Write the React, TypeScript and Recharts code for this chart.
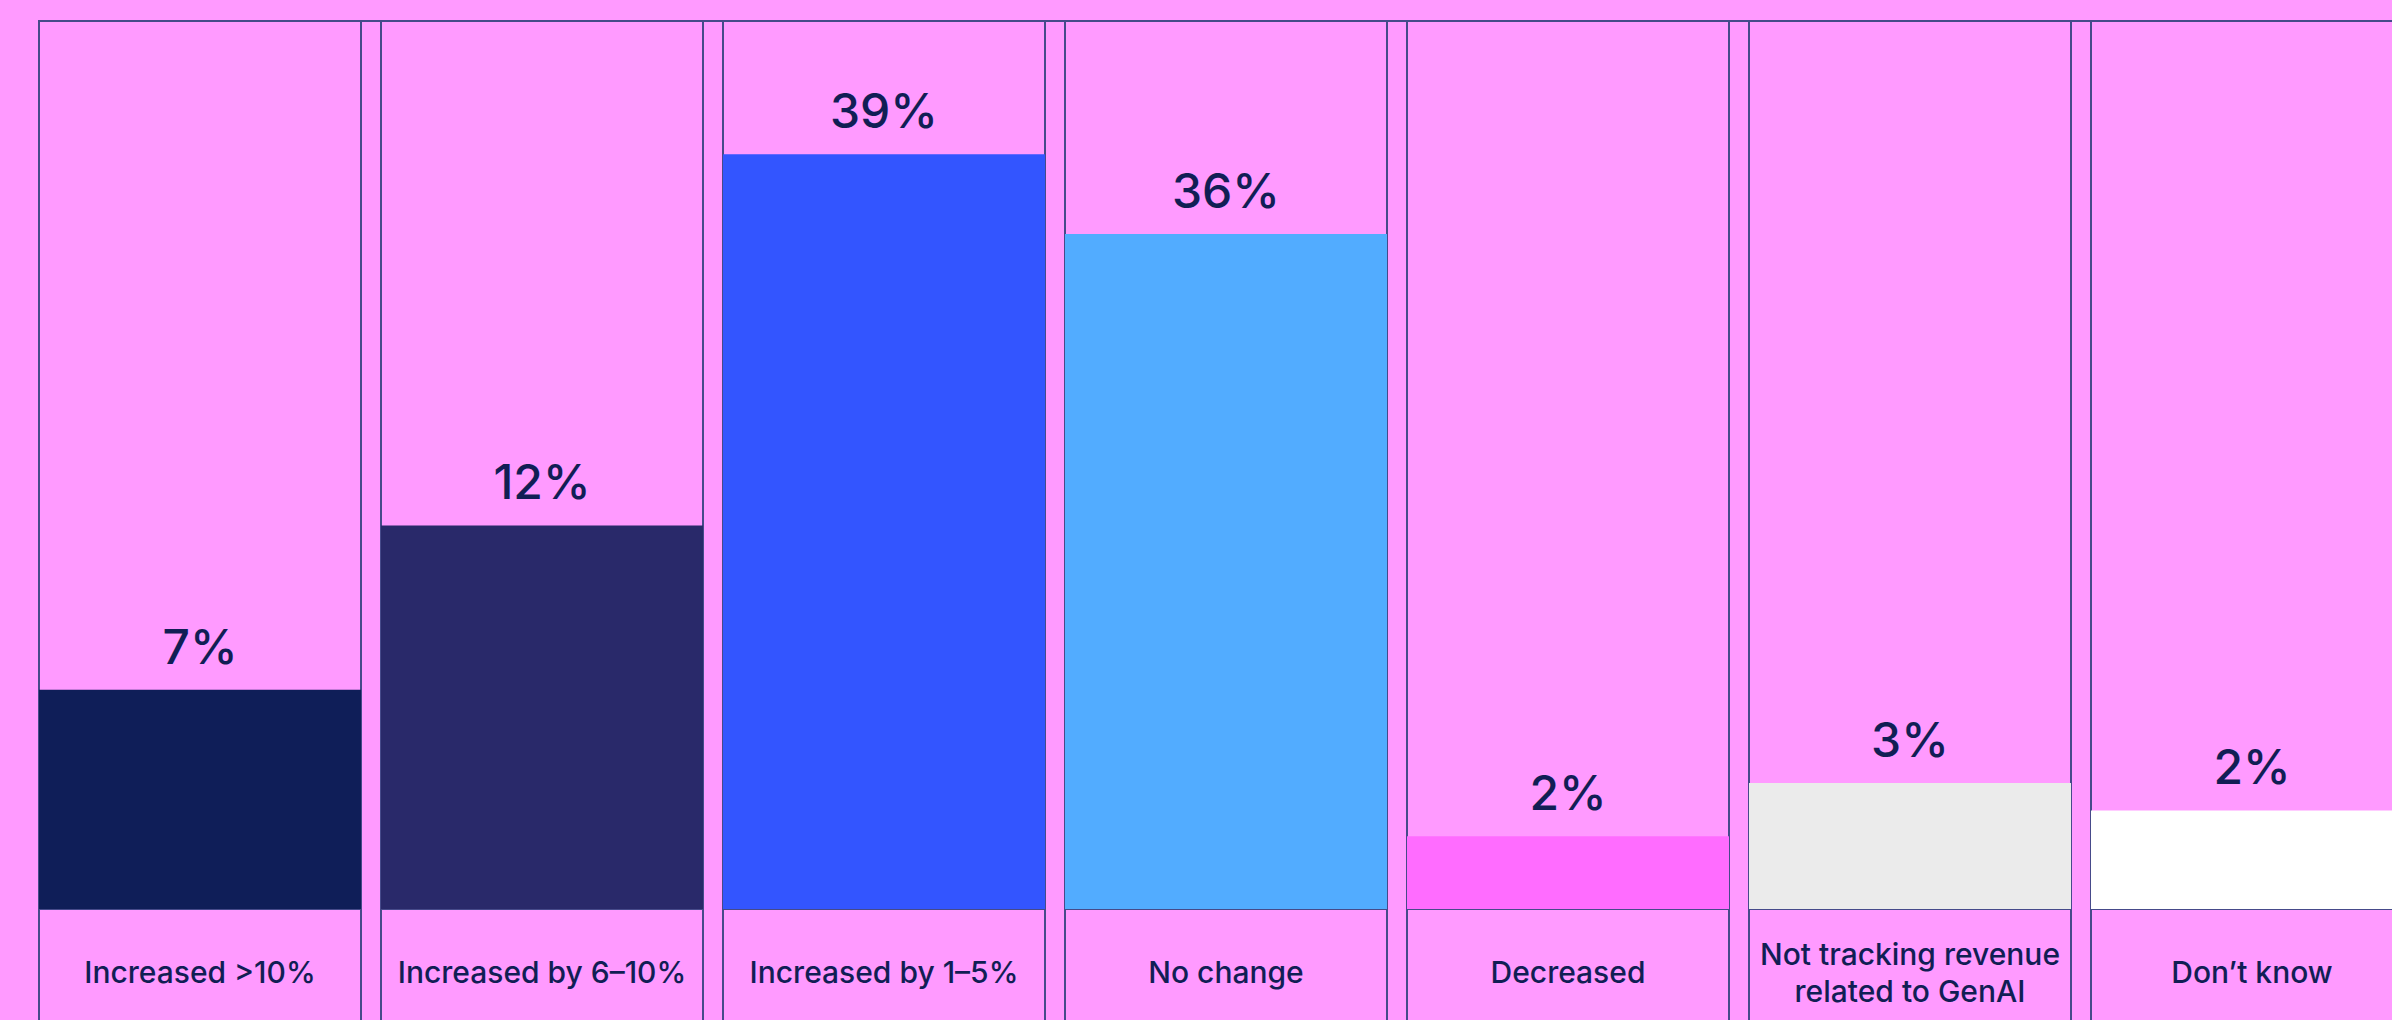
import React from 'react';
import { BarChart, Bar, XAxis, YAxis, Cell, LabelList } from 'recharts';

// answer categories, shown share and the bar height as drawn (share of column height)
const categories = [
  'Increased >10%',
  'Increased by 6–10%',
  'Increased by 1–5%',
  'No change',
  'Decreased',
  'Not tracking revenue\nrelated to GenAI',
  'Don’t know',
];
const shares = [7, 12, 39, 36, 2, 3, 2];
const barHeights = [24.7, 43.2, 85.0, 76.0, 8.2, 14.2, 11.1];
const barColors = ['#0F1E58', '#29296A', '#3355FF', '#52ACFF', '#FF6CFF', '#EBEBEB', '#FFFFFF'];

const PINK = '#FF9AFF';
const INK = '#111E55';
const RULE = '#464A8A';
const GAP = 20;
const FONT = 'Inter, "Noto Sans", sans-serif';

const data = categories.map((name, i) => ({
  name,
  share: shares[i],
  height: barHeights[i],
}));

const ColumnBackground = (props: any) => {
  const { x, y, width, height } = props;
  return (
    <g>
      <rect x={x} y={y} width={width} height={height + 300} fill={PINK} stroke={RULE} strokeWidth={2} />
      <line x1={x} x2={x + width} y1={y + height} y2={y + height} stroke={RULE} strokeWidth={2} />
      <line x1={x} x2={x + width + GAP} y1={y} y2={y} stroke={RULE} strokeWidth={2} />
    </g>
  );
};

const CategoryTick = (props: any) => {
  const { x, y, payload } = props;
  const lines = String(payload.value).split('\n');
  const lh = 37;
  const first = 66 - ((lines.length - 1) * lh) / 2;
  return (
    <text x={x} y={y} textAnchor="middle" fill={INK} fontSize={30} fontWeight={500} fontFamily={FONT}>
      {lines.map((l, i) => (
        <tspan key={i} x={x} dy={i === 0 ? first : lh}>
          {l}
        </tspan>
      ))}
    </text>
  );
};

const ShareLabel = (props: any) => {
  const { x, y, width, value } = props;
  return (
    <text x={x + width / 2} y={y - 26} textAnchor="middle" fill={INK} fontSize={48} fontWeight={500} fontFamily={FONT}>
      {`${value}%`}
    </text>
  );
};

export default function App() {
  return (
    <div
      style={{
        position: 'absolute',
        left: 0,
        top: 0,
        width: 2392,
        height: 1020,
        overflow: 'hidden',
        background: PINK,
      }}
    >
      <BarChart
        width={2440}
        height={1060}
        data={data}
        margin={{ top: 21, right: 17, bottom: 0, left: 29 }}
        barCategoryGap={GAP / 2}
      >
        <XAxis
          dataKey="name"
          axisLine={false}
          tickLine={false}
          height={151}
          interval={0}
          tick={<CategoryTick />}
        />
        <YAxis hide domain={[0, 100]} />
        <Bar dataKey="height" isAnimationActive={false} background={<ColumnBackground />}>
          {data.map((d, i) => (
            <Cell key={d.name} fill={barColors[i]} />
          ))}
          <LabelList dataKey="share" content={<ShareLabel />} />
        </Bar>
      </BarChart>
    </div>
  );
}
